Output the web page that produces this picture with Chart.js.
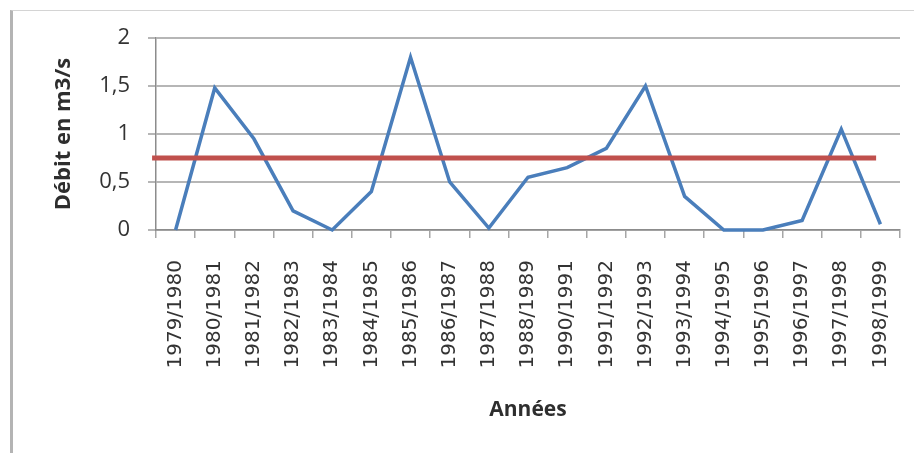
<!DOCTYPE html>
<html>
<head>
<meta charset="utf-8">
<script src="https://cdn.jsdelivr.net/npm/chart.js@4"></script>
<style>
  html, body { margin: 0; padding: 0; background: #fff; }
  #wrap { position: relative; width: 914px; height: 453px; overflow: hidden; }
  #frame { position: absolute; left: 10px; top: 10px; width: 920px; height: 460px;
           border-left: 3px solid #b4b4b4; border-top: 1px solid #d4d4d4; }
  canvas { position: absolute; left: 0; top: 0; }
</style>
</head>
<body>
<div id="wrap">
  <div id="frame"></div>
  <canvas id="c" width="914" height="453"></canvas>
</div>
<script>
// Hydrological years
const annees = [
  '1979/1980', '1980/1981', '1981/1982', '1982/1983', '1983/1984',
  '1984/1985', '1985/1986', '1986/1987', '1987/1988', '1988/1989',
  '1990/1991', '1991/1992', '1992/1993', '1993/1994', '1994/1995',
  '1995/1996', '1996/1997', '1997/1998', '1998/1999'
];

// Mean annual discharge (m3/s)
const debits = [
  0, 1.48, 0.95, 0.2, 0,
  0.4, 1.8, 0.5, 0.02, 0.55,
  0.65, 0.85, 1.5, 0.35, 0,
  0, 0.1, 1.05, 0.06
];

// Reference discharge level and the span of its line (in year-index units)
const seuil = 0.75;
const seuilDebut = -0.6;
const seuilFin = 17.89;

// Y axis ticks
const yTicks = [0, 0.5, 1, 1.5, 2];

const fmt = v => String(v).replace('.', ',');

const AREA = { left: 156, right: 900, top: 38, bottom: 230 };
const PAD = { left: 51, right: 914 - AREA.right, top: AREA.top, bottom: 30 };

new Chart(document.getElementById('c'), {
  data: {
    labels: annees,
    datasets: [
      {
        type: 'line',
        data: debits,
        borderColor: '#4a7ebb',
        borderWidth: 3.5,
        pointRadius: 0,
        tension: 0,
        fill: false,
        clip: false,
        xAxisID: 'x',
        yAxisID: 'y',
        order: 2
      },
      {
        type: 'line',
        data: [{ x: seuilDebut, y: seuil }, { x: seuilFin, y: seuil }],
        borderColor: '#c0504d',
        borderWidth: 5,
        pointRadius: 0,
        fill: false,
        clip: false,
        xAxisID: 'x2',
        yAxisID: 'y',
        order: 1
      }
    ]
  },
  options: {
    responsive: false,
    animation: false,
    layout: { padding: PAD },
    plugins: { legend: { display: false }, tooltip: { enabled: false } },
    scales: {
      x: {
        type: 'category',
        offset: true,
        grid: {
          offset: true,
          drawOnChartArea: false,
          drawTicks: true,
          tickLength: 8,
          color: '#a6a6a6',
          lineWidth: 1.5
        },
        border: { display: true, color: '#8c8c8c', width: 1.5 },
        ticks: {
          minRotation: 90,
          maxRotation: 90,
          autoSkip: false,
          padding: 22,
          color: '#333',
          font: { family: 'DejaVu Sans', size: 20 }
        },
        title: {
          display: true,
          text: 'Années',
          color: '#2e2e2e',
          padding: 0,
          font: { family: 'Open Sans', size: 21, weight: 'bold' }
        },
        afterFit: s => {
          s.height = (453 - PAD.bottom) - AREA.bottom;
          s.paddingLeft = 0;
          s.paddingRight = 0;
        }
      },
      x2: {
        type: 'linear',
        display: false,
        min: -0.5,
        max: annees.length - 0.5
      },
      y: {
        min: 0,
        max: 2,
        afterBuildTicks: s => { s.ticks = yTicks.map(v => ({ value: v })); },
        grid: {
          color: '#b6b6b6',
          lineWidth: 2,
          tickLength: 8,
          drawTicks: true
        },
        border: { display: true, color: '#8c8c8c', width: 1.5 },
        ticks: {
          padding: 18,
          color: '#333',
          font: { family: 'Open Sans', size: 22 },
          callback: v => fmt(v)
        },
        title: {
          display: true,
          text: 'Débit en m3/s',
          color: '#2e2e2e',
          padding: 0,
          font: { family: 'Open Sans', size: 22, weight: 'bold' }
        },
        afterFit: s => { s.width = AREA.left - PAD.left; }
      }
    }
  }
});
</script>
</body>
</html>
